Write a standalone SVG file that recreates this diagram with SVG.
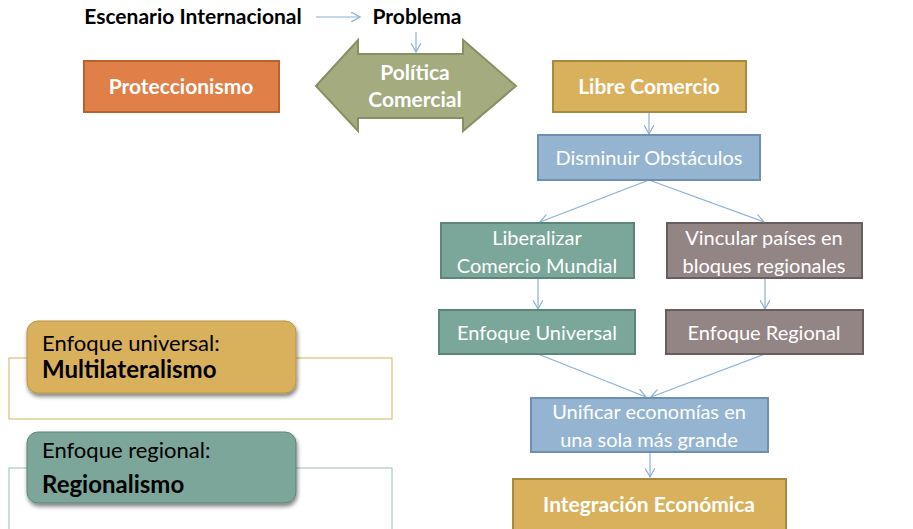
<svg xmlns="http://www.w3.org/2000/svg" width="913" height="529" viewBox="0 0 913 529">
<defs>
<marker id="ah" viewBox="0 0 10 10" refX="9" refY="5" markerWidth="10" markerHeight="10" markerUnits="userSpaceOnUse" orient="auto">
<path d="M0,0 L9,5 L0,10" fill="none" stroke="#8EB0D2" stroke-width="1.2"/>
</marker>
<filter id="sh" x="-10%" y="-10%" width="130%" height="140%">
<feGaussianBlur in="SourceAlpha" stdDeviation="2"/>
<feOffset dx="1" dy="3" result="b"/>
<feComponentTransfer><feFuncA type="linear" slope="0.5"/></feComponentTransfer>
<feMerge><feMergeNode/><feMergeNode in="SourceGraphic"/></feMerge>
</filter>
</defs>
<style>
text{font-family:"Lato","Open Sans","Liberation Sans",sans-serif;text-anchor:middle}
.w{fill:#fff;font-size:20px}
.wb{fill:#fff;font-size:21px;font-weight:bold}
.k{fill:#000;font-size:21px;font-weight:bold}
.conn line{stroke:#8EB0D2;stroke-width:1.2;marker-end:url(#ah)}
.gold{fill:#D9B15C;stroke:#A88A3E;stroke-width:2}
.org{fill:#E07F47;stroke:#B8622F;stroke-width:2}
.blue{fill:#94B4D2;stroke:#6F8FAF;stroke-width:2}
.teal{fill:#7BA69A;stroke:#5C8679;stroke-width:2}
.mauve{fill:#948585;stroke:#6A5D5D;stroke-width:2}
.lk{fill:#000;font-size:22px;text-anchor:start}
.lb{fill:#000;font-size:24px;font-weight:bold;text-anchor:start}
</style>
<g id="conectores" class="conn">
<line x1="316" y1="17" x2="360" y2="17"/>
<line x1="416" y1="32" x2="416" y2="52"/>
<line x1="649" y1="112" x2="649" y2="134"/>
<line x1="649" y1="180" x2="540" y2="222"/>
<line x1="649" y1="180" x2="764" y2="222"/>
<line x1="538" y1="278" x2="538" y2="309"/>
<line x1="765" y1="278" x2="765" y2="309"/>
<line x1="538" y1="354" x2="646" y2="397"/>
<line x1="765" y1="354" x2="651" y2="397"/>
<line x1="650" y1="452" x2="650" y2="477"/>
</g>
<g id="escenario"><text class="k" x="193" y="24">Escenario Internacional</text></g>
<g id="problema"><text class="k" x="417" y="24">Problema</text></g>
<g id="proteccionismo"><rect class="org" x="84" y="61" width="195" height="51"/><text class="wb" x="181" y="94">Proteccionismo</text></g>
<g id="politica">
<path d="M316,86 L358,40 L358,54 L463,54 L463,40 L516,86 L463,131 L463,118 L358,118 L358,131 Z" fill="#A3AB7F" stroke="#869061" stroke-width="2"/>
<text class="wb" x="415" y="80">Política</text><text class="wb" x="415" y="107">Comercial</text>
</g>
<g id="libre"><rect class="gold" x="553" y="61" width="193" height="51"/><text class="wb" x="649" y="94">Libre Comercio</text></g>
<g id="disminuir"><rect class="blue" x="538" y="135" width="222" height="45"/><text class="w" x="649" y="165">Disminuir Obstáculos</text></g>
<g id="liberalizar"><rect class="teal" x="441" y="223" width="193" height="55"/><text class="w" x="537" y="245">Liberalizar</text><text class="w" x="537" y="273">Comercio Mundial</text></g>
<g id="vincular"><rect class="mauve" x="667" y="223" width="195" height="55"/><text class="w" x="764" y="245">Vincular países en</text><text class="w" x="764" y="273">bloques regionales</text></g>
<g id="enfuniversal"><rect class="teal" x="439" y="310" width="196" height="44"/><text class="w" x="537" y="340">Enfoque Universal</text></g>
<g id="enfregional"><rect class="mauve" x="666" y="310" width="197" height="44"/><text class="w" x="764" y="340">Enfoque Regional</text></g>
<g id="unificar"><rect class="blue" x="531" y="398" width="237" height="54"/><text class="w" x="649" y="419">Unificar economías en</text><text class="w" x="649" y="447">una sola más grande</text></g>
<g id="integracion"><rect class="gold" x="513" y="479" width="273" height="55"/><text class="wb" x="649" y="512">Integración Económica</text></g>
<g id="multilateralismo">
<rect x="9" y="358" width="383" height="61" fill="none" stroke="#D9B15C" stroke-width="1"/>
<rect x="27" y="321" width="269" height="72" rx="11" fill="#D9B15C" stroke="#B8953F" stroke-width="1" filter="url(#sh)"/>
<text class="lk" x="42" y="351">Enfoque universal:</text>
<text class="lb" x="42" y="378">Multilateralismo</text>
</g>
<g id="regionalismo">
<rect x="9" y="468" width="383" height="70" fill="none" stroke="#9CC0B4" stroke-width="1"/>
<rect x="27" y="432" width="269" height="71" rx="11" fill="#7BA69A" stroke="#5C8679" stroke-width="1" filter="url(#sh)"/>
<text class="lk" x="42" y="458">Enfoque regional:</text>
<text class="lb" x="42" y="493">Regionalismo</text>
</g>
</svg>
